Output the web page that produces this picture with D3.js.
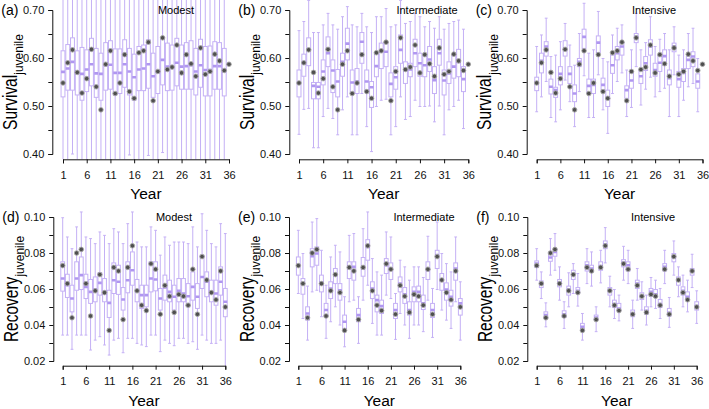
<!DOCTYPE html>
<html lang="en">
<head>
<meta charset="UTF-8" />
<script src="https://d3js.org/d3.v7.min.js"></script>
<title>Juvenile survival and recovery</title>
<style>
  body { margin: 0; background: #fff; }
  svg text { font-family: "Liberation Sans", Arial, Helvetica, sans-serif; }
</style>
</head>
<body>
<script>
// ---- data ----
const years = d3.range(1, 37);
const xTickValues = [1, 6, 11, 16, 21, 26, 31, 36];

const survTickValues = [0.40, 0.45, 0.50, 0.55, 0.60, 0.65, 0.70];
const survTickLabels = ["0.40", "", "0.50", "", "0.60", "", "0.70"];
const recTickValues = [0.02, 0.03, 0.04, 0.05, 0.06, 0.07, 0.08, 0.09, 0.10];
const recTickLabels = ["0.02", "", "0.04", "", "0.06", "", "0.08", "", "0.10"];

const panelNames = ["Modest", "Intermediate", "Intensive"];

// true values (diamonds), one per year
const survTrue = [0.548, 0.590, 0.617, 0.570, 0.527, 0.557, 0.618, 0.540, 0.492, 0.587,
  0.615, 0.526, 0.548, 0.607, 0.530, 0.516, 0.611, 0.615, 0.633, 0.511,
  0.572, 0.642, 0.576, 0.581, 0.627, 0.569, 0.607, 0.588, 0.562, 0.621,
  0.566, 0.572, 0.608, 0.594, 0.574, 0.587];
const recTrue = [0.073, 0.063, 0.044, 0.080, 0.082, 0.063, 0.045, 0.059, 0.068, 0.058,
  0.037, 0.072, 0.070, 0.043, 0.072, 0.084, 0.059, 0.051, 0.048, 0.074,
  0.071, 0.046, 0.062, 0.056, 0.047, 0.057, 0.056, 0.051, 0.071, 0.046,
  0.078, 0.065, 0.058, 0.054, 0.070, 0.050];

// boxplot stats per year: [whisker low, q1, median, q3, whisker high]
const survModest = [
  [0.36, 0.519, 0.571, 0.615, 0.76], [0.36, 0.533, 0.578, 0.628, 0.76], [0.400, 0.533, 0.592, 0.642, 0.76],
  [0.36, 0.523, 0.570, 0.615, 0.76], [0.36, 0.512, 0.567, 0.622, 0.76], [0.36, 0.530, 0.576, 0.617, 0.76],
  [0.36, 0.542, 0.587, 0.641, 0.76], [0.36, 0.518, 0.568, 0.620, 0.76], [0.36, 0.512, 0.567, 0.610, 0.76],
  [0.36, 0.533, 0.585, 0.632, 0.76], [0.36, 0.535, 0.586, 0.636, 0.76], [0.36, 0.523, 0.569, 0.619, 0.76],
  [0.36, 0.526, 0.569, 0.619, 0.76], [0.36, 0.539, 0.587, 0.638, 0.76], [0.398, 0.523, 0.572, 0.620, 0.76],
  [0.36, 0.512, 0.560, 0.608, 0.76], [0.36, 0.532, 0.576, 0.624, 0.76], [0.36, 0.532, 0.578, 0.627, 0.76],
  [0.397, 0.537, 0.587, 0.638, 0.76], [0.36, 0.518, 0.562, 0.610, 0.76], [0.36, 0.526, 0.572, 0.624, 0.76],
  [0.403, 0.544, 0.596, 0.641, 0.76], [0.36, 0.532, 0.582, 0.631, 0.76], [0.36, 0.533, 0.582, 0.627, 0.76],
  [0.36, 0.542, 0.590, 0.641, 0.76], [0.36, 0.535, 0.582, 0.627, 0.76], [0.36, 0.535, 0.583, 0.632, 0.76],
  [0.36, 0.535, 0.585, 0.636, 0.76], [0.36, 0.523, 0.572, 0.620, 0.76], [0.36, 0.539, 0.585, 0.639, 0.76],
  [0.36, 0.521, 0.575, 0.624, 0.76], [0.36, 0.521, 0.575, 0.625, 0.76], [0.36, 0.535, 0.583, 0.634, 0.76],
  [0.36, 0.535, 0.583, 0.632, 0.76], [0.36, 0.521, 0.573, 0.620, 0.76]
];
const survInter = [
  [0.441, 0.519, 0.548, 0.575, 0.657], [0.493, 0.562, 0.589, 0.608, 0.676], [0.495, 0.584, 0.617, 0.642, 0.72],
  [0.413, 0.515, 0.542, 0.549, 0.653], [0.413, 0.515, 0.540, 0.549, 0.653], [0.478, 0.544, 0.572, 0.596, 0.669],
  [0.495, 0.582, 0.610, 0.644, 0.693], [0.474, 0.528, 0.574, 0.596, 0.669], [0.440, 0.519, 0.551, 0.576, 0.660],
  [0.492, 0.562, 0.592, 0.610, 0.686], [0.519, 0.596, 0.630, 0.662, 0.707], [0.440, 0.526, 0.549, 0.575, 0.669],
  [0.440, 0.526, 0.551, 0.578, 0.665], [0.526, 0.589, 0.634, 0.653, 0.693], [0.457, 0.530, 0.551, 0.575, 0.665],
  [0.405, 0.497, 0.539, 0.551, 0.653], [0.499, 0.561, 0.583, 0.610, 0.686], [0.512, 0.578, 0.613, 0.631, 0.686],
  [0.514, 0.582, 0.613, 0.634, 0.703], [0.440, 0.519, 0.546, 0.569, 0.665], [0.457, 0.535, 0.560, 0.582, 0.669],
  [0.519, 0.589, 0.617, 0.648, 0.72], [0.472, 0.547, 0.575, 0.592, 0.672], [0.478, 0.561, 0.576, 0.589, 0.676],
  [0.512, 0.582, 0.610, 0.639, 0.693], [0.499, 0.562, 0.589, 0.610, 0.686], [0.499, 0.561, 0.585, 0.606, 0.665],
  [0.500, 0.572, 0.597, 0.624, 0.676], [0.467, 0.526, 0.554, 0.582, 0.662], [0.500, 0.585, 0.610, 0.639, 0.686],
  [0.440, 0.523, 0.553, 0.575, 0.660], [0.492, 0.547, 0.568, 0.592, 0.672], [0.499, 0.558, 0.582, 0.606, 0.676],
  [0.512, 0.561, 0.592, 0.618, 0.679], [0.453, 0.530, 0.556, 0.582, 0.660]
];
const survIntens = [
  [0.488, 0.532, 0.549, 0.560, 0.624], [0.519, 0.569, 0.594, 0.610, 0.648], [0.551, 0.604, 0.624, 0.634, 0.683],
  [0.476, 0.525, 0.540, 0.556, 0.603], [0.467, 0.518, 0.533, 0.539, 0.606], [0.492, 0.544, 0.567, 0.582, 0.634],
  [0.554, 0.604, 0.618, 0.636, 0.672], [0.509, 0.547, 0.567, 0.582, 0.627], [0.457, 0.509, 0.526, 0.544, 0.585],
  [0.530, 0.582, 0.592, 0.599, 0.651], [0.563, 0.620, 0.644, 0.660, 0.714], [0.476, 0.526, 0.542, 0.556, 0.610],
  [0.476, 0.526, 0.544, 0.556, 0.617], [0.565, 0.611, 0.632, 0.646, 0.697], [0.492, 0.532, 0.544, 0.558, 0.599],
  [0.443, 0.499, 0.518, 0.533, 0.592], [0.526, 0.568, 0.585, 0.606, 0.648], [0.551, 0.596, 0.610, 0.624, 0.662],
  [0.569, 0.606, 0.624, 0.632, 0.669], [0.478, 0.516, 0.533, 0.542, 0.575], [0.497, 0.537, 0.553, 0.572, 0.617],
  [0.582, 0.632, 0.644, 0.651, 0.693], [0.502, 0.547, 0.562, 0.575, 0.617], [0.535, 0.574, 0.589, 0.603, 0.632],
  [0.560, 0.606, 0.624, 0.638, 0.686], [0.519, 0.562, 0.575, 0.589, 0.624], [0.530, 0.572, 0.590, 0.606, 0.639],
  [0.537, 0.585, 0.604, 0.617, 0.651], [0.478, 0.544, 0.558, 0.575, 0.617], [0.565, 0.613, 0.624, 0.631, 0.665],
  [0.478, 0.539, 0.556, 0.572, 0.606], [0.512, 0.551, 0.569, 0.578, 0.617], [0.540, 0.578, 0.596, 0.603, 0.651],
  [0.547, 0.582, 0.603, 0.613, 0.662], [0.488, 0.537, 0.551, 0.567, 0.599]
];
const recModest = [
  [0.0344, 0.0588, 0.0658, 0.0751, 0.0996], [0.0344, 0.0553, 0.0621, 0.0682, 0.0889], [0.0265, 0.0473, 0.0547, 0.0621, 0.0824],
  [0.0344, 0.0593, 0.0658, 0.0751, 0.0945], [0.0344, 0.0597, 0.0677, 0.0778, 0.1028], [0.0344, 0.0547, 0.0612, 0.0682, 0.0889],
  [0.0261, 0.0520, 0.0584, 0.0653, 0.0880], [0.0316, 0.0529, 0.0597, 0.0667, 0.0852], [0.0335, 0.0566, 0.0634, 0.0690, 0.0917],
  [0.0289, 0.0529, 0.0575, 0.0658, 0.0898], [0.0233, 0.0442, 0.0523, 0.0593, 0.0852], [0.0316, 0.0575, 0.0649, 0.0745, 0.0935],
  [0.0326, 0.0570, 0.0640, 0.0732, 0.0917], [0.0246, 0.0483, 0.0542, 0.0608, 0.0852], [0.0326, 0.0579, 0.0649, 0.0751, 0.0963],
  [0.0326, 0.0621, 0.0704, 0.0806, 0.1028], [0.0298, 0.0529, 0.0590, 0.0653, 0.0861], [0.0289, 0.0492, 0.0566, 0.0621, 0.0834],
  [0.0280, 0.0501, 0.0566, 0.0621, 0.0834], [0.0344, 0.0584, 0.0658, 0.0751, 0.0945], [0.0344, 0.0590, 0.0653, 0.0751, 0.0926],
  [0.0252, 0.0483, 0.0547, 0.0603, 0.0788], [0.0316, 0.0538, 0.0608, 0.0677, 0.0889], [0.0298, 0.0529, 0.0584, 0.0649, 0.0843],
  [0.0285, 0.0483, 0.0557, 0.0621, 0.0861], [0.0326, 0.0529, 0.0590, 0.0658, 0.0861], [0.0326, 0.0529, 0.0575, 0.0658, 0.0861],
  [0.0298, 0.0501, 0.0560, 0.0630, 0.0852], [0.0307, 0.0538, 0.0612, 0.0695, 0.0945], [0.0265, 0.0492, 0.0557, 0.0630, 0.0834],
  [0.0344, 0.0603, 0.0667, 0.0788, 0.1018], [0.0316, 0.0557, 0.0640, 0.0695, 0.0926], [0.0298, 0.0529, 0.0579, 0.0649, 0.0852],
  [0.0298, 0.0510, 0.0575, 0.0649, 0.0834], [0.0316, 0.0566, 0.0640, 0.0723, 0.0963], [0.0150, 0.0446, 0.0529, 0.0603, 0.0908]
];
const recInter = [
  [0.0575, 0.0677, 0.0732, 0.0778, 0.0926], [0.0436, 0.0571, 0.0630, 0.0658, 0.0797], [0.0316, 0.0427, 0.0464, 0.0501, 0.0616],
  [0.0584, 0.0723, 0.0782, 0.0824, 0.0972], [0.0593, 0.0732, 0.0797, 0.0834, 0.0991], [0.0446, 0.0584, 0.0634, 0.0677, 0.0815],
  [0.0326, 0.0446, 0.0483, 0.0520, 0.0621], [0.0418, 0.0547, 0.0603, 0.0640, 0.0778], [0.0501, 0.0630, 0.0677, 0.0714, 0.0843],
  [0.0400, 0.0538, 0.0593, 0.0630, 0.0806], [0.0279, 0.0381, 0.0418, 0.0455, 0.0557], [0.0529, 0.0658, 0.0723, 0.0751, 0.0898],
  [0.0538, 0.0649, 0.0723, 0.0751, 0.0908], [0.0298, 0.0418, 0.0455, 0.0492, 0.0557], [0.0538, 0.0671, 0.0714, 0.0775, 0.0935],
  [0.0621, 0.0760, 0.0834, 0.0874, 0.1028], [0.0409, 0.0547, 0.0603, 0.0640, 0.0769], [0.0344, 0.0473, 0.0538, 0.0566, 0.0695],
  [0.0344, 0.0464, 0.0505, 0.0538, 0.0677], [0.0566, 0.0686, 0.0732, 0.0769, 0.0917], [0.0547, 0.0653, 0.0714, 0.0745, 0.0889],
  [0.0320, 0.0436, 0.0483, 0.0520, 0.0575], [0.0464, 0.0584, 0.0630, 0.0667, 0.0760], [0.0400, 0.0520, 0.0571, 0.0608, 0.0723],
  [0.0326, 0.0455, 0.0483, 0.0529, 0.0649], [0.0400, 0.0529, 0.0584, 0.0612, 0.0723], [0.0400, 0.0529, 0.0584, 0.0616, 0.0723],
  [0.0363, 0.0486, 0.0520, 0.0566, 0.0664], [0.0538, 0.0653, 0.0704, 0.0751, 0.0893], [0.0331, 0.0442, 0.0483, 0.0520, 0.0603],
  [0.0597, 0.0714, 0.0788, 0.0815, 0.0972], [0.0483, 0.0593, 0.0649, 0.0686, 0.0797], [0.0427, 0.0538, 0.0597, 0.0634, 0.0741],
  [0.0381, 0.0505, 0.0557, 0.0593, 0.0695], [0.0529, 0.0649, 0.0714, 0.0745, 0.0889], [0.0316, 0.0455, 0.0520, 0.0547, 0.0640]
];
const recIntens = [
  [0.0649, 0.0719, 0.0741, 0.0756, 0.0824], [0.0547, 0.0608, 0.0630, 0.0645, 0.0695], [0.0390, 0.0436, 0.0455, 0.0473, 0.0523],
  [0.0677, 0.0754, 0.0775, 0.0797, 0.0880], [0.0704, 0.0782, 0.0806, 0.0824, 0.0908], [0.0538, 0.0612, 0.0634, 0.0653, 0.0723],
  [0.0381, 0.0442, 0.0460, 0.0479, 0.0529], [0.0501, 0.0566, 0.0597, 0.0616, 0.0690], [0.0575, 0.0653, 0.0682, 0.0704, 0.0741],
  [0.0505, 0.0575, 0.0590, 0.0608, 0.0686], [0.0316, 0.0372, 0.0390, 0.0409, 0.0464], [0.0630, 0.0700, 0.0732, 0.0751, 0.0824],
  [0.0616, 0.0695, 0.0714, 0.0732, 0.0806], [0.0363, 0.0427, 0.0442, 0.0455, 0.0501], [0.0634, 0.0704, 0.0727, 0.0751, 0.0815],
  [0.0745, 0.0824, 0.0848, 0.0867, 0.0941], [0.0501, 0.0566, 0.0593, 0.0608, 0.0671], [0.0436, 0.0497, 0.0516, 0.0538, 0.0597],
  [0.0423, 0.0479, 0.0492, 0.0520, 0.0566], [0.0649, 0.0723, 0.0745, 0.0763, 0.0837], [0.0630, 0.0700, 0.0732, 0.0751, 0.0815],
  [0.0381, 0.0446, 0.0464, 0.0483, 0.0538], [0.0538, 0.0603, 0.0630, 0.0649, 0.0714], [0.0483, 0.0542, 0.0560, 0.0579, 0.0640],
  [0.0400, 0.0460, 0.0479, 0.0501, 0.0566], [0.0501, 0.0560, 0.0584, 0.0603, 0.0664], [0.0492, 0.0553, 0.0571, 0.0597, 0.0649],
  [0.0436, 0.0497, 0.0516, 0.0542, 0.0603], [0.0630, 0.0700, 0.0723, 0.0741, 0.0815], [0.0387, 0.0449, 0.0468, 0.0492, 0.0553],
  [0.0677, 0.0751, 0.0775, 0.0797, 0.0867], [0.0557, 0.0621, 0.0649, 0.0667, 0.0723], [0.0501, 0.0566, 0.0590, 0.0612, 0.0677],
  [0.0473, 0.0538, 0.0557, 0.0584, 0.0649], [0.0608, 0.0677, 0.0700, 0.0714, 0.0793], [0.0409, 0.0483, 0.0505, 0.0529, 0.0590]
];

// ---- layout ----
const W = 709, H = 409;
const boxCol = "#c4b0f5", medCol = "#b097f0", ptFill = "#4f4f4f", ptStroke = "#a9a9a9";

const rows = [
  { domain: [0.40, 0.70], range: [154, 10], ticks: survTickValues, labels: survTickLabels,
    axisLine: 159.3, clipTop: 0, title: "Survival", truth: survTrue },
  { domain: [0.02, 0.10], range: [361, 217], ticks: recTickValues, labels: recTickLabels,
    axisLine: 365.7, clipTop: 205, title: "Recovery", truth: recTrue }
];

const panels = [
  { tag: "(a)", row: 0, name: 0, stats: survModest, axisX: 52.3, x1: 63, x36: 229, nameX: 176 },
  { tag: "(b)", row: 0, name: 1, stats: survInter, axisX: 289.3, x1: 299, x36: 468.3, nameX: 427 },
  { tag: "(c)", row: 0, name: 2, stats: survIntens, axisX: 526.7, x1: 536.7, x36: 702.5, nameX: 654 },
  { tag: "(d)", row: 1, name: 0, stats: recModest, axisX: 53.3, x1: 62.7, x36: 225.3, nameX: 174 },
  { tag: "(e)", row: 1, name: 1, stats: recInter, axisX: 289, x1: 298.3, x36: 460.3, nameX: 424 },
  { tag: "(f)", row: 1, name: 2, stats: recIntens, axisX: 527.3, x1: 536.7, x36: 696.7, nameX: 653 }
];

const svg = d3.select("body").append("svg")
  .attr("width", W).attr("height", H)
  .style("display", "block");
const defs = svg.append("defs");

panels.forEach((p, pi) => {
  const r = rows[p.row];
  const x = d3.scaleLinear().domain([1, 36]).range([p.x1, p.x36]);
  const y = d3.scaleLinear().domain(r.domain).range(r.range);
  const step = x(2) - x(1);
  const bw = step * 0.82, cw = step * 0.6;

  const g = svg.append("g");

  // whiskers run past the plot region in (a), so clip them
  const clipId = "clip" + pi;
  defs.append("clipPath").attr("id", clipId)
    .append("rect")
    .attr("x", p.axisX + 1).attr("y", r.clipTop)
    .attr("width", W - p.axisX).attr("height", r.axisLine - r.clipTop);

  const boxes = g.append("g").attr("clip-path", `url(#${clipId})`)
    .selectAll("g").data(p.stats).join("g")
    .attr("transform", (d, i) => `translate(${x(years[i])},0)`);

  boxes.append("line")
    .attr("y1", d => y(d[0])).attr("y2", d => y(d[1]))
    .attr("stroke", boxCol).attr("stroke-width", 1);
  boxes.append("line")
    .attr("y1", d => y(d[3])).attr("y2", d => y(d[4]))
    .attr("stroke", boxCol).attr("stroke-width", 1);
  boxes.append("line")
    .attr("x1", -cw / 2).attr("x2", cw / 2)
    .attr("y1", d => y(d[0])).attr("y2", d => y(d[0]))
    .attr("stroke", boxCol).attr("stroke-width", 1);
  boxes.append("line")
    .attr("x1", -cw / 2).attr("x2", cw / 2)
    .attr("y1", d => y(d[4])).attr("y2", d => y(d[4]))
    .attr("stroke", boxCol).attr("stroke-width", 1);
  boxes.append("rect")
    .attr("x", -bw / 2).attr("width", bw)
    .attr("y", d => y(d[3])).attr("height", d => y(d[1]) - y(d[3]))
    .attr("fill", "#fff").attr("stroke", boxCol).attr("stroke-width", 1);
  boxes.append("line")
    .attr("x1", -bw / 2).attr("x2", bw / 2)
    .attr("y1", d => y(d[2])).attr("y2", d => y(d[2]))
    .attr("stroke", medCol).attr("stroke-width", 2.6);

  // true values
  g.append("g").selectAll("circle").data(r.truth).join("circle")
    .attr("cx", (d, i) => x(years[i]))
    .attr("cy", d => y(d))
    .attr("r", 2.3)
    .attr("fill", ptFill).attr("stroke", ptStroke).attr("stroke-width", 0.9);

  // axes
  const yAxis = d3.axisLeft(y)
    .tickValues(r.ticks)
    .tickFormat((d, i) => r.labels[i])
    .tickSizeOuter(0).tickSize(4).tickPadding(4);
  const ya = g.append("g").attr("transform", `translate(${p.axisX},0)`).call(yAxis);

  const xAxis = d3.axisBottom(x)
    .tickValues(xTickValues)
    .tickFormat(d3.format("d"))
    .tickSizeOuter(0).tickSize(4).tickPadding(8);
  const xa = g.append("g").attr("transform", `translate(0,${r.axisLine})`).call(xAxis);

  [ya, xa].forEach(a => {
    a.attr("font-family", null).attr("font-size", null);
    a.selectAll("path, line").attr("stroke", "#111");
    a.selectAll("text").attr("fill", "#111").style("font-size", "11px");
  });

  // axis titles
  g.append("text")
    .attr("x", (p.x1 + p.x36) / 2)
    .attr("y", r.axisLine + 40)
    .attr("text-anchor", "middle")
    .style("font-size", "15.5px")
    .text("Year");

  // y title: main word stretched across, subscript to its right
  const ym = (r.range[0] + r.range[1]) / 2;
  const bx = p.axisX - 35.5;
  const main = g.append("text")
    .attr("text-anchor", "start")
    .style("font-size", "15.5px")
    .text(r.title);
  const sub = g.append("text")
    .attr("text-anchor", "start")
    .style("font-size", "12px")
    .text("juvenile");
  const mainLen = main.node().getComputedTextLength();
  const subLen = sub.node().getComputedTextLength();
  const start = ym + (mainLen + subLen) / 2;
  main.attr("transform", `translate(${bx},${start}) rotate(-90) scale(1,1.3)`);
  sub.attr("transform", `translate(${bx + 6.5},${start - mainLen}) rotate(-90)`);

  // panel tag and scenario name
  g.append("text")
    .attr("x", p.axisX - 51)
    .attr("y", r.range[1] + 4.5)
    .style("font-size", "14px")
    .text(p.tag);
  g.append("text")
    .attr("x", p.nameX)
    .attr("y", r.range[1] + 4)
    .attr("text-anchor", "middle")
    .style("font-size", "11px")
    .text(panelNames[p.name]);
});
</script>
</body>
</html>
